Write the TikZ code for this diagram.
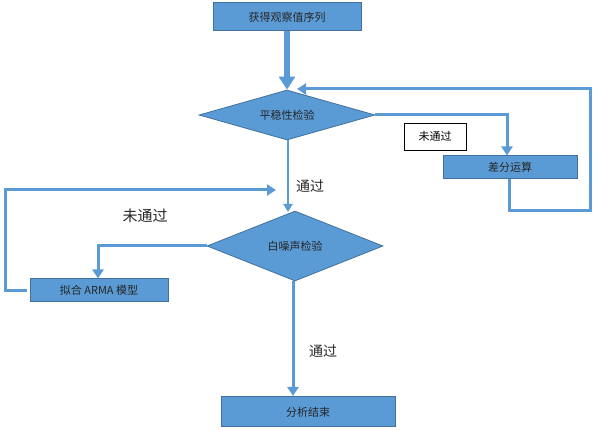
\documentclass[tikz,border=0pt]{standalone}
\usepackage{fontspec}
\newfontfamily\cjk{Noto Sans CJK SC}
\usetikzlibrary{arrows.meta,shapes.geometric}
\definecolor{boxfill}{HTML}{5B9BD5}
\definecolor{boxline}{HTML}{41719C}
\definecolor{conn}{HTML}{5B9BD5}
\tikzset{
  procbox/.style={draw=boxline, fill=boxfill, line width=1pt, rectangle, inner sep=0pt,
    font=\cjk\fontsize{11}{13}\selectfont, text=black!85},
  decide/.style={draw=boxline, fill=boxfill, line width=0.8pt, diamond, aspect=3.5, inner sep=0pt,
    font=\cjk\fontsize{11}{13}\selectfont, text=black!85},
  labelbox/.style={draw=black, fill=white, line width=0.8pt, rectangle, inner sep=0pt,
    font=\cjk\fontsize{11}{13}\selectfont},
  freelabel/.style={font=\cjk\fontsize{14}{16}\selectfont, text=black!85, inner sep=0pt},
  thickarrow/.style={draw=conn, line width=6pt, -{Triangle[width=16pt,length=13pt]}},
  flow/.style={draw=conn, line width=3pt, -{Triangle[width=11pt,length=9pt]}},
  thinflow/.style={draw=conn, line width=2pt, -{Triangle[width=9pt,length=8pt]}},
}
\begin{document}
\begin{tikzpicture}[x=1pt,y=-1pt]
\useasboundingbox (0,0) rectangle (595,430);

\node[procbox, minimum width=148pt, minimum height=28pt] (b1) at (287,17) {获得观察值序列};
\node[decide, minimum width=176pt, minimum height=50pt] (d1) at (287,115) {平稳性检验};
\node[procbox, minimum width=134pt, minimum height=23pt] (b2) at (510,167.5) {差分运算};
\node[labelbox, minimum width=62pt, minimum height=27pt] (nl) at (435,136.5) {未通过};
\node[decide, minimum width=176pt, minimum height=70pt] (d2) at (295,246) {白噪声检验};
\node[procbox, minimum width=138pt, minimum height=23pt] (b3) at (99,290.5) {拟合 ARMA 模型};
\node[procbox, minimum width=174pt, minimum height=30pt] (b4) at (308,412) {分析结束};

\node[freelabel] (p1) at (310,186) {通过};
\node[freelabel, font=\cjk\fontsize{15}{17}\selectfont] (n2) at (145,216) {未通过};
\node[freelabel] (p2) at (323,351) {通过};

\coordinate (fb) at (297,89);
\coordinate (lp) at (276,190);

% main arrow
\draw[thickarrow] (b1.south) -- (d1.north);
% not stationary -> differencing
\draw[flow] (d1.east) -- (507,115) -- ([xshift=-3pt]b2.north);
% differencing loops back
\draw[flow] ([xshift=-1pt]b2.south) -- (509,211) -- (590,211) -- (590,89) -- (fb);
% stationary -> white noise
\draw[thinflow] ([xshift=1pt]d1.south) -- (288,212);
% not white noise -> ARMA
\draw[flow] (d2.west) -- (98,246) -- ([xshift=-1pt]b3.north);
% ARMA loops back
\draw[flow, shorten <=3pt] (b3.west) -- (5,290.5) -- (5,190) -- (lp);
% white noise -> end
\draw[flow] ([xshift=-2pt]d2.south) -- (293,396);
\end{tikzpicture}
\end{document}
